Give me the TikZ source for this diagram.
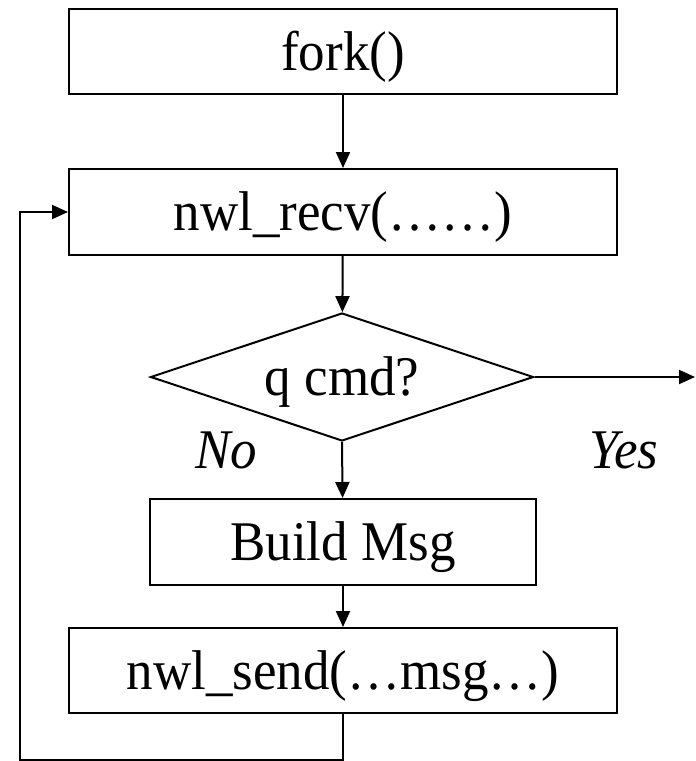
\documentclass[tikz,border=0pt]{standalone}
\usepackage{fontspec}
\setmainfont{Liberation Serif}[FakeStretch=0.946]
\usetikzlibrary{shapes.geometric,arrows.meta}
\begin{document}
\begin{tikzpicture}[x=1pt,y=-1pt,
  lw/.style={line width=2pt},
  txt/.style={font=\fontsize{56}{62}\selectfont},
  box/.style={draw,lw,txt,minimum width=548pt,minimum height=85pt,inner sep=0pt,text height=37pt,text depth=0pt},
  smallbox/.style={box,minimum width=386pt,minimum height=86pt},
  decision/.style={draw,lw,txt,diamond,aspect=3,minimum width=383pt,minimum height=128pt,inner sep=0pt,text height=37pt,text depth=0pt},
  lbl/.style={font=\fontsize{56}{62}\selectfont\itshape,inner sep=0pt},
  arr/.style={lw,-{Triangle[length=16pt,width=14pt]}}
]
\useasboundingbox (0,0) rectangle (696,761);
\node[box] (fork) at (343,51.5) {fork()};
\node[box,minimum height=86pt] (recv) at (343,212) {nwl\_recv(……)};
\node[decision] (q) at (342,377) {q cmd?};
\node[smallbox] (build) at (343,542) {Build Msg};
\node[box] (send) at (343,670.5) {nwl\_send(…msg…)};
\node[lbl,anchor=base] (no) at (226,468) {No};
\node[lbl,anchor=base] (yes) at (624,468) {Yes};
\coordinate (out) at (695,377);
\coordinate (lb) at (20,760);
\draw[arr] (fork) -- (recv);
\draw[arr] (recv) -- (q);
\draw[arr] (q.east) -- (out);
\draw[arr] (q.south) -- (build);
\draw[arr] (build) -- (send);
\draw[arr] (send.south) |- (lb) |- (recv.west);
\end{tikzpicture}
\end{document}
